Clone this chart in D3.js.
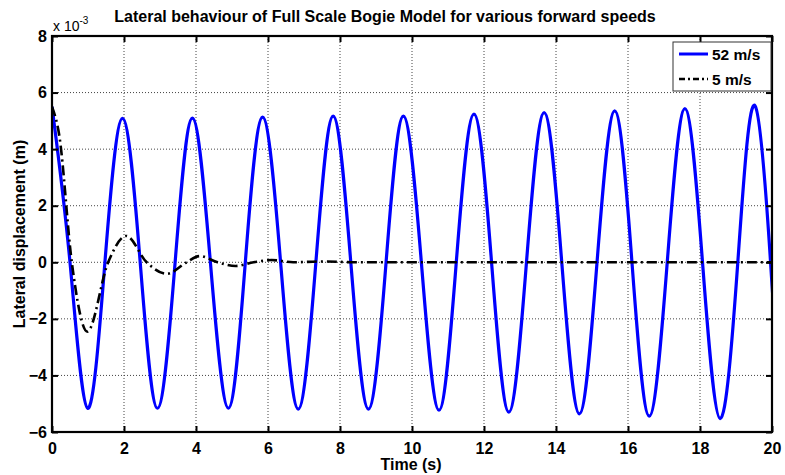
<!DOCTYPE html>
<html>
<head>
<meta charset="utf-8">
<script src="https://cdn.jsdelivr.net/npm/d3@7"></script>
<style>
  body { margin: 0; background: #fff; }
  text { font-family: "Liberation Sans", Arial, sans-serif; font-weight: bold; }
</style>
</head>
<body>
<div id="chart"></div>
<script>
// values (displacement in units of 1e-3 m)
var time52 = [0, 0.5, 0.99, 1.47, 1.96, 2.45, 2.93, 3.42, 3.90, 4.40, 4.90, 5.37, 5.85, 6.35, 6.84, 7.33, 7.81, 8.30, 8.79, 9.28, 9.76, 10.26, 10.75, 11.23, 11.72, 12.21, 12.69, 13.18, 13.67, 14.16, 14.65, 15.14, 15.63, 16.11, 16.59, 17.09, 17.58, 18.07, 18.56, 19.05, 19.53, 19.96, 20];
var disp52 = [5.5, 0, -5.16, 0, 5.09, 0, -5.16, 0, 5.10, 0, -5.16, 0, 5.13, 0, -5.19, 0, 5.17, 0, -5.19, 0, 5.17, 0, -5.23, 0, 5.24, 0, -5.30, 0, 5.29, 0, -5.36, 0, 5.35, 0, -5.44, 0, 5.43, 0, -5.53, 0, 5.53, 0, -0.7];

var time5 = [0, 0.2, 0.55, 0.98, 1.56, 2.06, 2.63, 3.19, 3.74, 4.1, 4.6, 5.1, 5.6, 6.1, 6.7, 7.5, 8.5, 12, 16, 20];
var disp5 = [5.5, 4.5, 0, -2.45, 0, 0.93, 0, -0.41, 0, 0.22, 0, -0.13, 0, 0.08, 0, 0.03, 0, 0, 0, 0];

var xTicks = [0, 2, 4, 6, 8, 10, 12, 14, 16, 18, 20];
var yTicks = [-6, -4, -2, 0, 2, 4, 6, 8];
var seriesNames = ["52 m/s", "5 m/s"];

var W = 785, H = 475;
var margin = {top: 36, right: 13, bottom: 43, left: 52};
var width = W - margin.left - margin.right,
    height = H - margin.top - margin.bottom;

var svg = d3.select("#chart").append("svg")
    .attr("width", W)
    .attr("height", H);

var g = svg.append("g")
    .attr("transform", "translate(" + margin.left + "," + margin.top + ")");

var x = d3.scaleLinear().domain([0, 20]).range([0, width]);
var y = d3.scaleLinear().domain([-6, 8]).range([height, 0]);

// grid
g.append("g").selectAll("line")
    .data(xTicks.slice(1, -1))
    .enter().append("line")
    .attr("x1", function(d) { return x(d); })
    .attr("x2", function(d) { return x(d); })
    .attr("y1", 0).attr("y2", height)
    .style("stroke", "#444")
    .style("stroke-width", 1)
    .style("stroke-dasharray", "1,2");

g.append("g").selectAll("line")
    .data(yTicks.slice(1, -1))
    .enter().append("line")
    .attr("y1", function(d) { return y(d); })
    .attr("y2", function(d) { return y(d); })
    .attr("x1", 0).attr("x2", width)
    .style("stroke", "#444")
    .style("stroke-width", 1)
    .style("stroke-dasharray", "1,2");

// lines
var line52 = d3.line()
    .x(function(d, i) { return x(time52[i]); })
    .y(function(d) { return y(d); })
    .curve(d3.curveNatural);

var line5 = d3.line()
    .x(function(d, i) { return x(time5[i]); })
    .y(function(d) { return y(d); })
    .curve(d3.curveMonotoneX);

g.append("defs").append("clipPath").attr("id", "clip")
  .append("rect").attr("width", width).attr("height", height);

g.append("path")
    .datum(disp52)
    .attr("clip-path", "url(#clip)")
    .attr("d", line52)
    .style("fill", "none")
    .style("stroke", "#0000ff")
    .style("stroke-width", 3.2);

g.append("path")
    .datum(disp5)
    .attr("clip-path", "url(#clip)")
    .attr("d", line5)
    .style("fill", "none")
    .style("stroke", "#000")
    .style("stroke-width", 2.6)
    .style("stroke-dasharray", "10,4,2,4");

// axes (ticks inward, on all four sides)
var xAxis = g.append("g")
    .attr("transform", "translate(0," + height + ")")
    .call(d3.axisBottom(x).tickValues(xTicks).tickSize(-6).tickPadding(9).tickFormat(d3.format("d")));
var xTop = g.append("g")
    .call(d3.axisTop(x).tickValues(xTicks).tickSize(-6).tickFormat(""));
var yAxis = g.append("g")
    .call(d3.axisLeft(y).tickValues(yTicks).tickSize(-6).tickPadding(5).tickFormat(d3.format("d")));
var yRight = g.append("g")
    .attr("transform", "translate(" + width + ",0)")
    .call(d3.axisRight(y).tickValues(yTicks).tickSize(-6).tickFormat(""));

[xAxis, xTop, yAxis, yRight].forEach(function(a) {
  a.select(".domain").remove();
  a.selectAll(".tick line").style("stroke", "#000").style("stroke-width", 2);
  a.selectAll("text").style("font-size", "16px").style("fill", "#000")
    .style("font-family", "'Liberation Sans', Arial, sans-serif").style("font-weight", "bold");
});
xAxis.selectAll("text").attr("dy", "0.8em");

g.append("rect")
    .attr("width", width).attr("height", height)
    .style("fill", "none")
    .style("stroke", "#000")
    .style("stroke-width", 2.2);

// exponent
var expo = svg.append("text")
    .attr("x", 53).attr("y", 31)
    .style("font-size", "14px")
    .style("font-weight", "normal");
expo.append("tspan").text("x 10");
expo.append("tspan").attr("dy", -7).style("font-size", "10px").text("-3");

// title and labels
svg.append("text")
    .attr("x", 385).attr("y", 22)
    .style("text-anchor", "middle")
    .style("font-size", "16px")
    .text("Lateral behaviour of Full Scale Bogie Model for various forward speeds");

svg.append("text")
    .attr("x", 411).attr("y", 470)
    .style("text-anchor", "middle")
    .style("font-size", "16px")
    .text("Time (s)");

svg.append("text")
    .attr("transform", "translate(25," + (margin.top + height / 2) + ") rotate(-90)")
    .style("text-anchor", "middle")
    .style("font-size", "16px")
    .text("Lateral displacement (m)");

// legend
var leg = svg.append("g").attr("transform", "translate(673,42)");
leg.append("rect")
    .attr("width", 98).attr("height", 49)
    .style("fill", "#fff")
    .style("stroke", "#333")
    .style("stroke-width", 1);

var styles = [
  {stroke: "#0000ff", width: 3, dash: null},
  {stroke: "#000", width: 2.6, dash: "6,3,2,3"}
];
leg.selectAll(".entry")
    .data(seriesNames)
    .enter().append("g")
    .attr("class", "entry")
    .each(function(d, i) {
      var e = d3.select(this).attr("transform", "translate(0," + (12 + i * 25) + ")");
      e.append("line")
        .attr("x1", 6).attr("x2", 35)
        .style("stroke", styles[i].stroke)
        .style("stroke-width", styles[i].width)
        .style("stroke-dasharray", styles[i].dash);
      e.append("text")
        .attr("x", 39).attr("y", 5.5)
        .style("font-size", "15.5px")
        .text(d);
    });
</script>
</body>
</html>
